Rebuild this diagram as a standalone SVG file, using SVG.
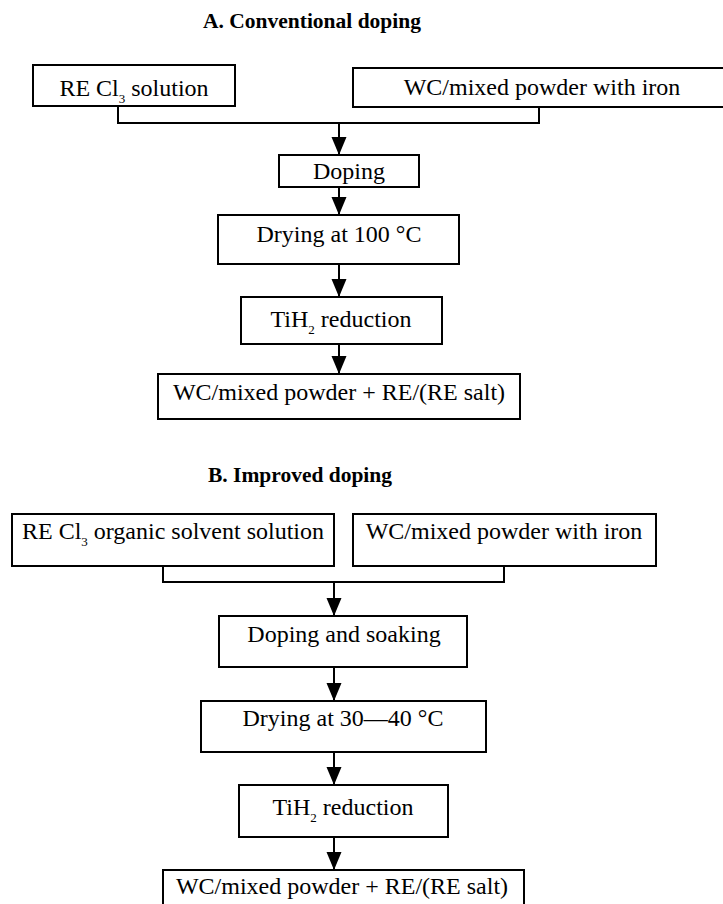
<svg xmlns="http://www.w3.org/2000/svg" width="723" height="904" viewBox="0 0 723 904">
<defs>
<style>
.box{fill:#fff;stroke:#000;stroke-width:2}
.t{font-family:"Liberation Serif","Times New Roman",serif;font-size:24px;fill:#000;text-anchor:middle}
.h{font-family:"Liberation Serif","Times New Roman",serif;font-size:22px;font-weight:bold;fill:#000;text-anchor:middle}
.sub{font-size:13px}
.ln{fill:none;stroke:#000;stroke-width:2}
</style>
<marker id="arr" markerUnits="userSpaceOnUse" markerWidth="18" markerHeight="16" refX="18" refY="8" orient="auto" viewBox="0 0 18 16">
<path d="M0,0.5 L18,8 L0,15.5 Z" fill="#000"/>
</marker>
</defs>
<rect width="723" height="904" fill="#fff"/>

<text class="h" x="312" y="28" textLength="218" lengthAdjust="spacingAndGlyphs">A. Conventional doping</text>
<text class="h" x="300" y="482" textLength="184" lengthAdjust="spacingAndGlyphs">B. Improved doping</text>

<g id="connectors">
<path class="ln" d="M118,106 V123 H539 V107"/>
<path class="ln" d="M339,123 V155" marker-end="url(#arr)"/>
<path class="ln" d="M339,187 V215" marker-end="url(#arr)"/>
<path class="ln" d="M339,264 V297" marker-end="url(#arr)"/>
<path class="ln" d="M339,344 V374" marker-end="url(#arr)"/>
<path class="ln" d="M163,566 V582 H504 V566"/>
<path class="ln" d="M334,582 V616" marker-end="url(#arr)"/>
<path class="ln" d="M334,667 V701" marker-end="url(#arr)"/>
<path class="ln" d="M334,752 V785" marker-end="url(#arr)"/>
<path class="ln" d="M334,837 V870" marker-end="url(#arr)"/>
</g>

<g id="a-recl3">
<rect class="box" x="33" y="65" width="202" height="41"/>
<text class="t" x="134" y="96">RE Cl<tspan class="sub" dy="7">3</tspan><tspan dy="-7"> solution</tspan></text>
</g>
<g id="a-wc">
<rect class="box" x="353" y="68" width="375" height="39"/>
<text class="t" x="542" y="95">WC/mixed powder with iron</text>
</g>
<g id="a-doping">
<rect class="box" x="279" y="155" width="140" height="32"/>
<text class="t" x="349" y="179">Doping</text>
</g>
<g id="a-drying">
<rect class="box" x="218" y="215" width="241" height="49"/>
<text class="t" x="339" y="242">Drying at 100 °C</text>
</g>
<g id="a-tih2">
<rect class="box" x="241" y="297" width="201" height="47"/>
<text class="t" x="341" y="327">TiH<tspan class="sub" dy="7">2</tspan><tspan dy="-7"> reduction</tspan></text>
</g>
<g id="a-result">
<rect class="box" x="158" y="374" width="362" height="45"/>
<text class="t" x="339" y="400">WC/mixed powder + RE/(RE salt)</text>
</g>

<g id="b-recl3">
<rect class="box" x="12" y="514" width="322" height="52"/>
<text class="t" x="173" y="539">RE Cl<tspan class="sub" dy="7">3</tspan><tspan dy="-7"> organic solvent solution</tspan></text>
</g>
<g id="b-wc">
<rect class="box" x="353" y="514" width="303" height="52"/>
<text class="t" x="504" y="539">WC/mixed powder with iron</text>
</g>
<g id="b-doping">
<rect class="box" x="219" y="616" width="248" height="51"/>
<text class="t" x="344" y="642">Doping and soaking</text>
</g>
<g id="b-drying">
<rect class="box" x="201" y="701" width="285" height="51"/>
<text class="t" x="343" y="726">Drying at 30—40 °C</text>
</g>
<g id="b-tih2">
<rect class="box" x="239" y="785" width="209" height="52"/>
<text class="t" x="343" y="815">TiH<tspan class="sub" dy="7">2</tspan><tspan dy="-7"> reduction</tspan></text>
</g>
<g id="b-result">
<rect class="box" x="163" y="870" width="361" height="40"/>
<text class="t" x="342" y="894">WC/mixed powder + RE/(RE salt)</text>
</g>
</svg>
